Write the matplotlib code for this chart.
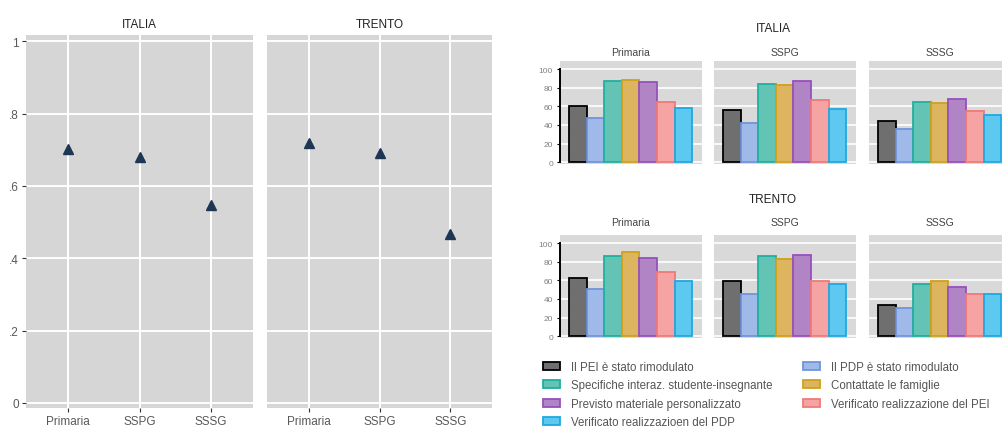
import numpy as np
import matplotlib
matplotlib.use('Agg')
import matplotlib.pyplot as plt

plt.rcParams['font.family'] = ['Liberation Sans', 'DejaVu Sans']

# dati pannello sinistro (quota media)
livelli = ['Primaria', 'SSPG', 'SSSG']
italia_punti = [0.702, 0.681, 0.548]
trento_punti = [0.718, 0.690, 0.467]

# dati pannello destro (percentuali)
voci = ['Il PEI è stato rimodulato',
        'Il PDP è stato rimodulato',
        'Specifiche interaz. studente-insegnante',
        'Contattate le famiglie',
        'Previsto materiale personalizzato',
        'Verificato realizzazione del PEI',
        'Verificato realizzazioen del PDP']
italia_primaria = [60, 47.5, 87.7, 88.7, 85.9, 65.1, 57.7]
italia_sspg = [56.3, 42.3, 84.2, 82.4, 87.7, 66.5, 57.0]
italia_sssg = [44.0, 35.9, 64.8, 63.7, 68.3, 54.6, 51.0]
trento_primaria = [62.5, 50.5, 85.6, 90.2, 83.5, 68.8, 59.6]
trento_sspg = [59.3, 45.3, 85.6, 83.2, 87.0, 59.3, 56.1]
trento_sssg = [33.3, 30.2, 56.1, 59.3, 52.3, 45.6, 45.6]

riempi = ['#6f6f6f', '#9fb9e8', '#63c3b4', '#dcb55e', '#b184c5', '#f5a3a3', '#5dc8f0']
bordi = ['#000000', '#6f95dc', '#1fb0a0', '#d0a01a', '#9650bd', '#f07a78', '#1fa8e0']

W, H = 1003, 431
fig = plt.figure(figsize=(W / 100, H / 100), dpi=100)
fig.patch.set_facecolor('white')


def rect(x, ytop, w, h):
    return [x / W, (H - ytop - h) / H, w / W, h / H]


grigio_txt = '#595959'

# ---- sinistra
for k, (nome, vals, x0, w0) in enumerate([('ITALIA', italia_punti, 26, 227),
                                          ('TRENTO', trento_punti, 267, 225)]):
    ax = fig.add_axes(rect(x0, 36, w0, 373))
    ax.set_facecolor('#d6d6d6')
    ax.plot(range(len(livelli)), vals, linestyle='none', marker='^',
            markersize=7, color='#1c3653', zorder=3)
    ax.set_xlim(-0.59, 2.59)
    ax.set_ylim(-0.014, 1.017)
    ax.set_xticks(range(len(livelli)))
    ax.set_xticklabels(livelli, fontsize=8.5)
    ax.set_yticks([0, 0.2, 0.4, 0.6, 0.8, 1])
    ax.grid(True, color='white', linewidth=1.4)
    ax.set_axisbelow(True)
    for s in ax.spines.values():
        s.set_visible(False)
    ax.tick_params(colors='#333333', length=3, width=0.8, pad=2)
    ax.tick_params(axis='x', labelcolor=grigio_txt)
    if k == 0:
        ax.set_yticklabels(['0', '.2', '.4', '.6', '.8', '1'], fontsize=8.5)
        ax.tick_params(axis='y', labelcolor=grigio_txt)
    else:
        ax.tick_params(axis='y', left=False, labelleft=False)
    fig.text((x0 + w0 / 2) / W, 1 - 25 / H, nome, ha='center', va='center',
             fontsize=8.5, color='#222222')

# ---- destra
colonne = [(560, 'Primaria'), (714, 'SSPG'), (869, 'SSSG')]
righe = [('ITALIA', 29, 53, 61.7, [italia_primaria, italia_sspg, italia_sssg]),
         ('TRENTO', 200, 223, 235.7, [trento_primaria, trento_sspg, trento_sssg])]
pos = np.arange(len(voci))
barre = None
for nome, ytit, ysub, ytop, serie in righe:
    fig.text(773 / W, 1 - ytit / H, nome, ha='center', va='center',
             fontsize=8.5, color='#222222')
    for j, ((x0, sub), vals) in enumerate(zip(colonne, serie)):
        ax = fig.add_axes(rect(x0, ytop, 142, 103.3))
        ax.set_facecolor('#d9d9d9')
        b = ax.bar(pos, vals, width=1.0, color=riempi, edgecolor=bordi,
                   linewidth=1.3, zorder=3)
        if barre is None:
            barre = b
        ax.set_xlim(-1.01, 7.05)
        ax.set_ylim(-2, 109)
        ax.set_yticks([0, 20, 40, 60, 80, 100])
        ax.yaxis.grid(True, color='white', linewidth=1.2)
        ax.set_axisbelow(True)
        ax.set_xticks([])
        for s in ax.spines.values():
            s.set_visible(False)
        if j == 0:
            ax.spines['left'].set_visible(True)
            ax.spines['left'].set_bounds(0, 100)
            ax.spines['left'].set_linewidth(1.4)
            ax.tick_params(axis='y', labelsize=6, labelcolor='#808080',
                           length=2.5, width=0.8, pad=2.5)
        else:
            ax.tick_params(axis='y', left=False, labelleft=False)
        fig.text((x0 + 71) / W, 1 - ysub / H, sub, ha='center', va='center',
                 fontsize=7.5, color='#444444')

# legenda su due colonne
maniglie = list(barre.patches)
for cols, xk in [([0, 2, 4, 6], 543), ([1, 3, 5], 803)]:
    leg = fig.legend([maniglie[i] for i in cols], [voci[i] for i in cols],
                     loc='upper left', bbox_to_anchor=(xk / W, 1 - 362 / H),
                     frameon=False, fontsize=8.3, handlelength=1.5,
                     handleheight=0.7, handletextpad=0.95, labelspacing=0.55,
                     borderaxespad=0, borderpad=0)
    for t in leg.get_texts():
        t.set_color('#555555')

fig.savefig('out.png', dpi=100)
